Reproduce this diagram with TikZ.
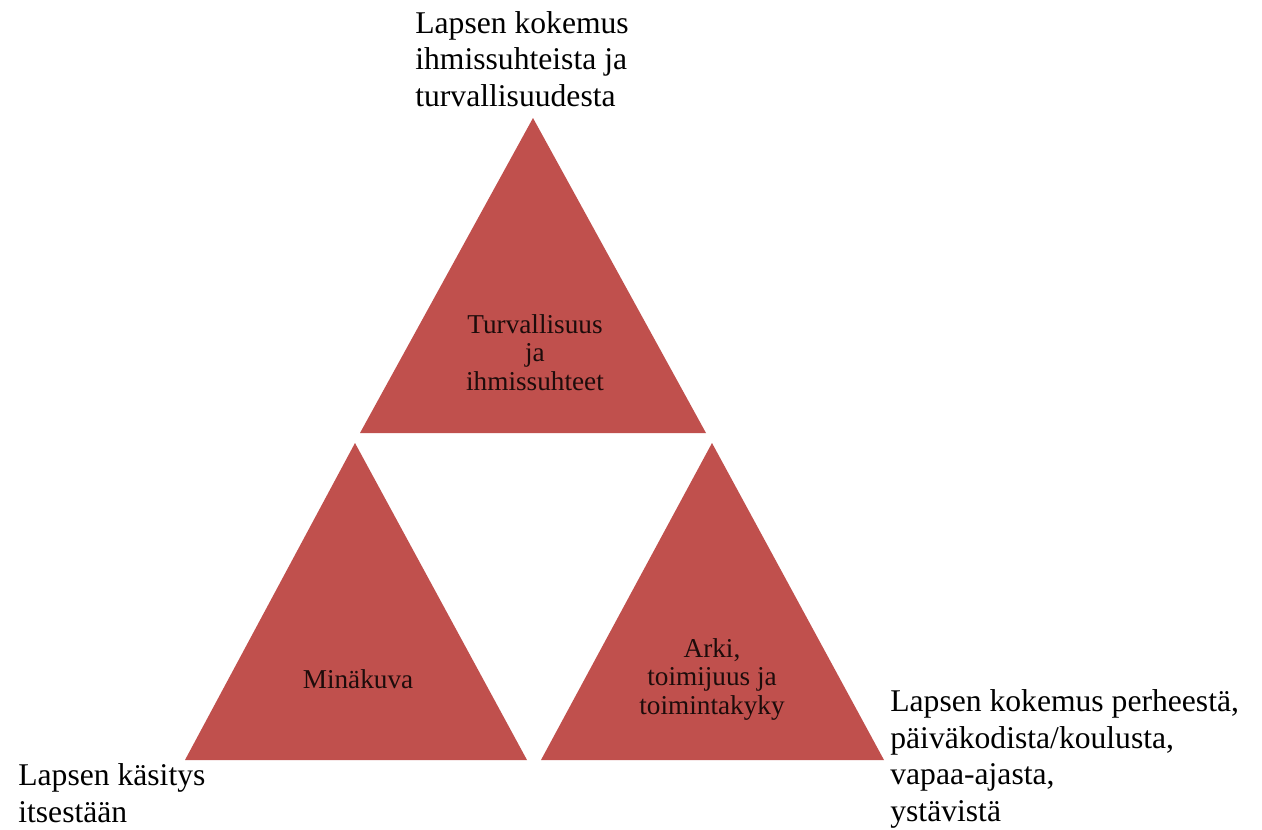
\documentclass[tikz,border=0pt]{standalone}
\usepackage{fontspec}
\setmainfont{Liberation Serif}
\usepackage{tikz}
\usetikzlibrary{calc}
\definecolor{trired}{HTML}{C0504D}
\tikzset{
	outerlabel/.style={anchor=base west, align=left, inner sep=0pt, font=\fontsize{18}{20.7}\selectfont},
	innerlabel/.style={anchor=base, align=center, inner sep=0pt, font=\fontsize{15.5}{16}\selectfont, text=black!85!trired}
}

\begin{document}
\begin{tikzpicture}[x=0.02cm, y=-0.02cm]
			%%%%% START %%%%%
			\useasboundingbox (0, 0) rectangle (1262, 829);
			
			\fill[trired] (533, 118) -- (706, 433) -- (360, 433) -- cycle;
			\fill[trired] (355, 443) -- (527, 760) -- (185, 760) -- cycle;
			\fill[trired] (712, 443) -- (884, 760) -- (541, 760) -- cycle;
			
			% base anchor = last line
			\node[innerlabel] (turva) at (535, 390) {Turvallisuus\\ja\\ihmissuhteet};
			\node[innerlabel] (mina) at (358, 688) {Minäkuva};
			\node[innerlabel] (arki) at (712, 714) {Arki,\\toimijuus ja\\toimintakyky};
			
			\node[outerlabel] (kokemusyla) at (415, 106) {Lapsen kokemus\\ihmissuhteista ja\\turvallisuudesta};
			\node[outerlabel] (kasitys) at (18, 822) {Lapsen käsitys\\itsestään};
			\node[outerlabel] (kokemusarki) at (890, 821) {Lapsen kokemus perheestä,\\päiväkodista/koulusta,\\vapaa-ajasta,\\ystävistä};
			
			%%%%% END %%%%%
		\end{tikzpicture}
\end{document}
